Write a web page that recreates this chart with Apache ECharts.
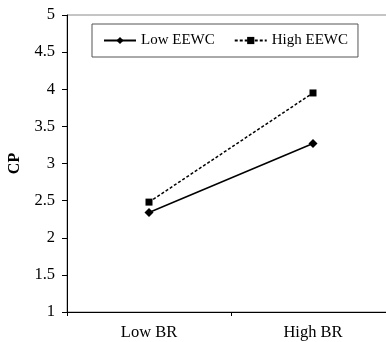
<!DOCTYPE html>
<html>
<head>
<meta charset="utf-8">
<script src="https://cdn.jsdelivr.net/npm/echarts@6/dist/echarts.min.js"></script>
<style>
html,body{margin:0;padding:0;background:#fff;}
#c{width:386px;height:342px;}
</style>
</head>
<body>
<div id="c"></div>
<script>
const categories = ["Low BR", "High BR"];
const lowEEWC = [2.34, 3.27];
const highEEWC = [2.48, 3.95];
const yTicks = { min: 1, max: 5, interval: 0.5 };

const font = "'Liberation Serif', 'Times New Roman', serif";
const chart = echarts.init(document.getElementById('c'), null, { renderer: 'canvas' });
chart.setOption({
  animation: false,
  backgroundColor: '#fff',
  grid: {
    left: 67, top: 15, width: 328, height: 297,
    containLabel: false,
    outerBoundsMode: 'none',
    show: true, borderColor: '#8a8a8a', borderWidth: 1, backgroundColor: 'transparent'
  },
  legend: {
    left: 92, top: 24,
    padding: [9, 10, 9, 11],
    borderColor: '#555', borderWidth: 1,
    itemWidth: 32, itemHeight: 9, itemGap: 19,
    textStyle: { fontFamily: font, fontSize: 15, color: '#000' },
    data: ['Low EEWC', 'High EEWC']
  },
  xAxis: {
    type: 'category',
    data: categories,
    boundaryGap: true,
    axisLine: { lineStyle: { color: '#000', width: 1 } },
    axisTick: { show: true, length: 4, lineStyle: { color: '#000' } },
    axisLabel: { color: '#000', fontFamily: font, fontSize: 16.5, margin: 12 },
    splitLine: { show: false }
  },
  yAxis: {
    type: 'value',
    min: yTicks.min, max: yTicks.max, interval: yTicks.interval,
    name: 'CP',
    nameLocation: 'middle',
    nameRotate: 90,
    nameGap: 44,
    nameTextStyle: { fontFamily: font, fontSize: 16, fontWeight: 'bold', color: '#000' },
    axisLine: { show: true, lineStyle: { color: '#000', width: 1 } },
    axisTick: { show: true, length: 5, lineStyle: { color: '#000' } },
    axisLabel: { color: '#000', fontFamily: font, fontSize: 16.5, margin: 12 },
    splitLine: { show: false }
  },
  series: [
    {
      name: 'Low EEWC', type: 'line', data: lowEEWC,
      symbol: 'diamond', symbolSize: 9,
      itemStyle: { color: '#000' },
      lineStyle: { color: '#000', width: 1.5, type: 'solid' }
    },
    {
      name: 'High EEWC', type: 'line', data: highEEWC,
      symbol: 'rect', symbolSize: 7,
      itemStyle: { color: '#000' },
      lineStyle: { color: '#000', width: 1.5, type: [3, 2] }
    }
  ]
});
</script>
</body>
</html>
